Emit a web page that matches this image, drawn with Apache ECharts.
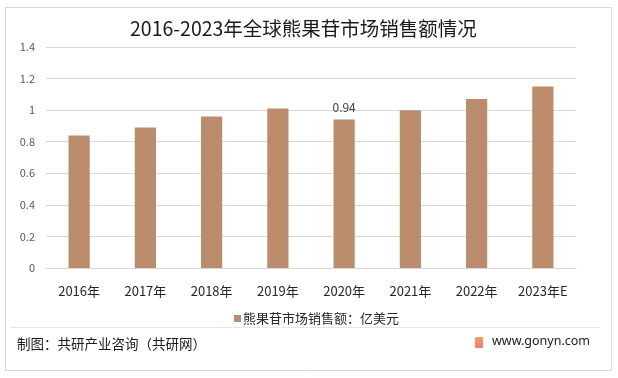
<!DOCTYPE html>
<html>
<head>
<meta charset="utf-8">
<script src="https://cdn.jsdelivr.net/npm/echarts@6/dist/echarts.min.js"></script>
<style>
html, body { margin: 0; padding: 0; background: #fff; }
#main { width: 618px; height: 378px; }
</style>
</head>
<body>
<div id="main"></div>
<script>
var years = ['2016年', '2017年', '2018年', '2019年', '2020年', '2021年', '2022年', '2023年E'];
var sales = [0.84, 0.89, 0.96, 1.01, 0.94, 1.00, 1.07, 1.15];
var labelled = [4]; // only 2020 carries a value label in the source
var seriesName = '熊果苷市场销售额：亿美元';

var chart = echarts.init(document.getElementById('main'));

var barData = sales.map(function (v, i) {
    return {
        value: v,
        label: { show: labelled.indexOf(i) >= 0 }
    };
});

chart.setOption({
    backgroundColor: '#fff',
    textStyle: { fontFamily: '"Noto Sans CJK SC", "Noto Sans", sans-serif' },
    title: {
        text: '2016-2023年全球熊果苷市场销售额情况',
        left: 125,
        top: 14,
        textStyle: {
            fontSize: 19.5,
            fontWeight: 'normal',
            color: '#1a1a1a',
            fontFamily: '"Noto Sans CJK SC", sans-serif'
        }
    },
    legend: {
        data: [seriesName],
        top: 307,
        left: 229,
        icon: 'rect',
        itemWidth: 7,
        itemHeight: 7,
        itemGap: 4,
        textStyle: { fontSize: 13, color: '#262626', padding: [0, 0, 0, -3] }
    },
    grid: {
        left: 46,
        right: 42,
        top: 47,
        bottom: 110
    },
    xAxis: {
        type: 'category',
        data: years,
        axisLine: { lineStyle: { color: '#d9d9d9' } },
        axisTick: { show: false },
        axisLabel: { color: '#262626', fontSize: 13, margin: 17 }
    },
    yAxis: {
        type: 'value',
        min: 0,
        max: 1.4,
        interval: 0.2,
        axisLine: { show: false },
        axisTick: { show: false },
        axisLabel: { color: '#595959', fontSize: 11, margin: 11 },
        splitLine: { lineStyle: { color: '#d9d9d9' } }
    },
    series: [
        {
            name: seriesName,
            type: 'bar',
            barWidth: '32%',
            itemStyle: { color: '#bb8c6b' },
            label: {
                position: 'top',
                distance: 6,
                color: '#404040',
                fontSize: 12
            },
            data: barData
        }
    ],
    graphic: [
        {
            type: 'rect',
            left: 3,
            top: 5,
            shape: { width: 606, height: 363 },
            style: { fill: 'none', stroke: '#d9d9d9', lineWidth: 1 },
            silent: true
        },
        {
            type: 'line',
            shape: { x1: 10, y1: 327.5, x2: 600, y2: 327.5 },
            style: { stroke: '#e6e6e6', lineWidth: 1 }
        },
        {
            type: 'text',
            left: 17,
            top: 337,
            style: {
                text: '制图：共研产业咨询（共研网）',
                fontSize: 13.5,
                fill: '#1a1a1a',
                fontFamily: '"Noto Sans CJK SC", sans-serif'
            }
        },
        {
            type: 'rect',
            left: 475,
            top: 337,
            shape: { width: 8, height: 11, r: 1 },
            style: {
                fill: new echarts.graphic.LinearGradient(0, 0, 0, 1, [
                    { offset: 0, color: '#f5a05a' },
                    { offset: 1, color: '#f07a7a' }
                ])
            }
        },
        {
            type: 'text',
            left: 492,
            top: 335,
            style: {
                text: 'www.gonyn.com',
                fontSize: 12.5,
                fill: '#1a1a1a',
                fontFamily: '"Noto Sans", sans-serif'
            }
        }
    ]
});
</script>
</body>
</html>
